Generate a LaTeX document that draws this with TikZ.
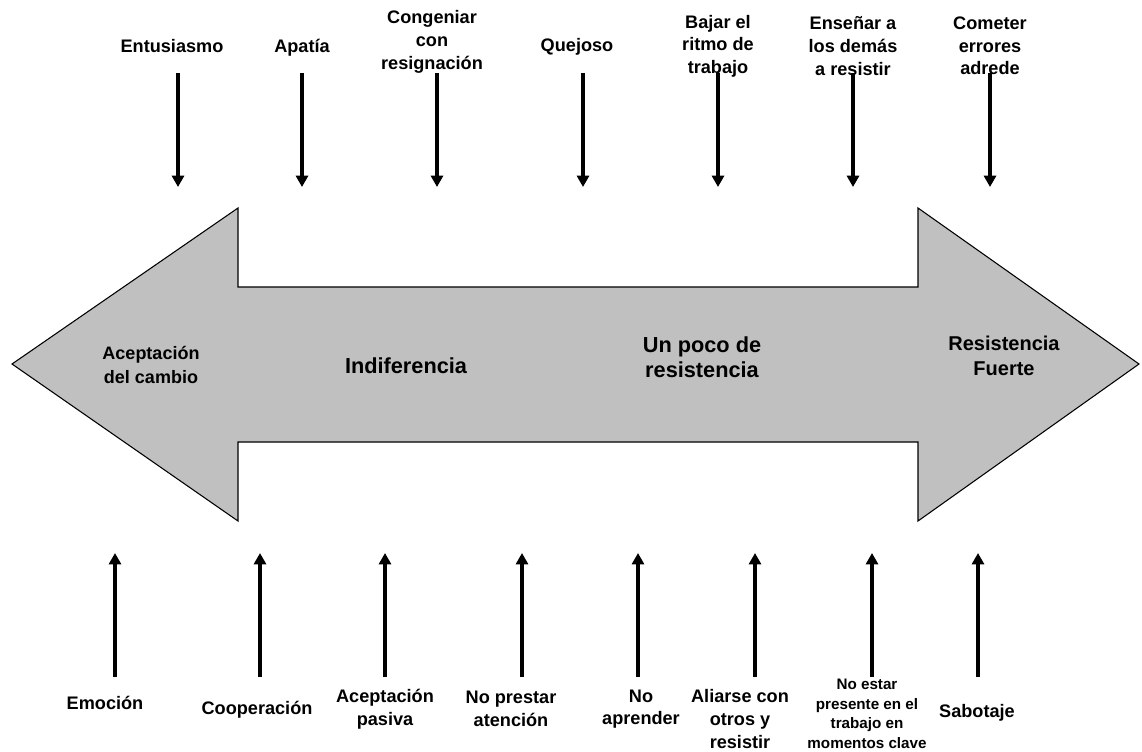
\documentclass[tikz,border=0pt]{standalone}
\usepackage{fontspec}
\setmainfont{Liberation Sans}
\usetikzlibrary{arrows.meta}
\definecolor{bandgray}{HTML}{C0C0C0}
\tikzset{
  band/.style={draw=black, line width=0.8pt, fill=bandgray, line join=miter},
  lbl/.style={align=center, inner sep=0pt, font=\bfseries\fontsize{13.6}{17}\selectfont},
  lblsmall/.style={align=center, inner sep=0pt, font=\bfseries\fontsize{11.4}{14.6}\selectfont},
  stage/.style={align=center, inner sep=0pt, font=\bfseries\fontsize{13.5}{18}\selectfont},
  stagebig/.style={align=center, inner sep=0pt, font=\bfseries\fontsize{16.3}{19}\selectfont},
  stagemid/.style={align=center, inner sep=0pt, font=\bfseries\fontsize{15}{18.7}\selectfont},
  force/.style={line width=3pt, -{Triangle[width=9pt,length=8.5pt]}}
}
\begin{document}
\begin{tikzpicture}[x=0.75pt,y=-0.75pt]
\useasboundingbox (0,0) rectangle (1142,751);

% double-headed band
\draw[band] (12,364) -- (238,208) -- (238,287) -- (918,287) -- (918,208)
  -- (1139,364) -- (918,521) -- (918,442) -- (238,442) -- (238,521) -- cycle;

% stages along the band
\node[stage]    (s1) at (151,365) {Aceptación\\del cambio};
\node[stagebig] (s2) at (406,366) {Indiferencia};
\node[stagebig] (s3) at (702,357) {Un poco de\\resistencia};
\node[stagemid] (s4) at (1004,356) {Resistencia\\Fuerte};

% attitudes above
\node[lbl] (a1) at (172,46) {Entusiasmo};
\node[lbl] (a2) at (302,48) {Apatía};
\node[lbl] (a3) at (432,42) {Congeniar\\con\\resignación};
\node[lbl] (a4) at (577,47) {Quejoso};
\node[lbl] (a5) at (718,46) {Bajar el\\ritmo de\\trabajo};
\node[lbl] (a6) at (853,46) {Enseñar a\\los demás\\a resistir};
\node[lbl] (a7) at (990,46) {Cometer\\errores\\adrede};

\foreach \n/\x in {1/178,2/302,3/437,4/583,5/718,6/853,7/990}{
  \coordinate (ta\n) at (\x,73);
  \coordinate (tb\n) at (\x,187);
  \draw[force] (ta\n) -- (tb\n);
}

% behaviours below
\node[lbl] (b1) at (105,703) {Emoción};
\node[lbl] (b2) at (257,710) {Cooperación};
\node[lbl] (b3) at (385,709) {Aceptación\\pasiva};
\node[lbl] (b4) at (511,709) {No prestar\\atención};
\node[lbl] (b5) at (641,709) {No\\aprender};
\node[lbl] (b6) at (740,719) {Aliarse con\\otros y\\resistir};
\node[lblsmall] (b7) at (867,714) {No estar\\presente en el\\trabajo en\\momentos clave};
\node[lbl] (b8) at (977,713) {Sabotaje};

\foreach \n/\x in {1/115,2/260,3/385,4/522,5/638,6/755,7/872,8/978}{
  \coordinate (ba\n) at (\x,677);
  \coordinate (bb\n) at (\x,553);
  \draw[force] (ba\n) -- (bb\n);
}
\end{tikzpicture}
\end{document}
